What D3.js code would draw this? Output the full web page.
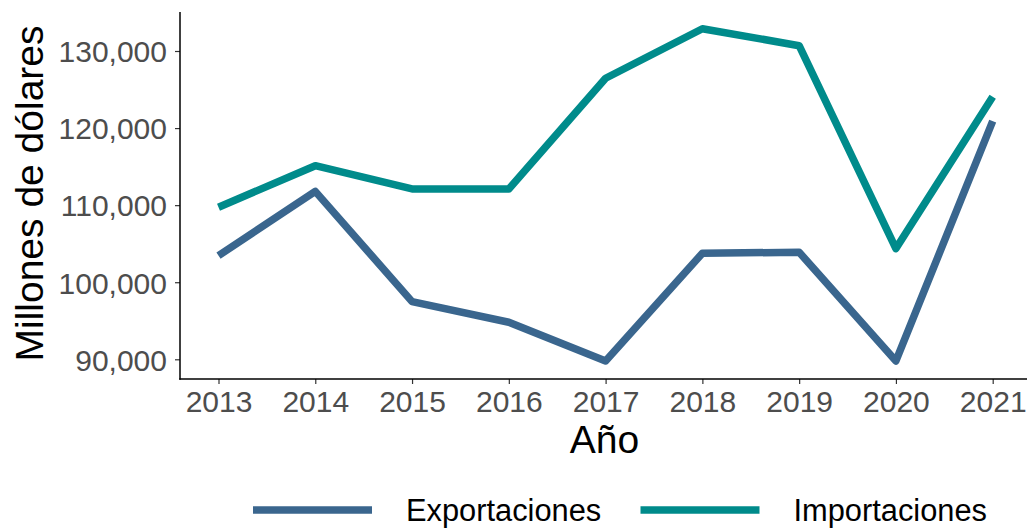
<!DOCTYPE html>
<html>
<head>
<meta charset="utf-8">
<script src="https://cdn.jsdelivr.net/npm/d3@7"></script>
<style>
  body { margin: 0; background: #fff; }
  svg { font-family: "Liberation Sans", Arial, sans-serif; }
</style>
</head>
<body>
<div id="vis"></div>
<script>
// data
var years = [2013, 2014, 2015, 2016, 2017, 2018, 2019, 2020, 2021];
var exportaciones = [103450, 111790, 97480, 94810, 89790, 103760, 103890, 89790, 120900];
var importaciones = [109730, 115120, 112100, 112100, 126460, 132890, 130690, 104370, 124070];
var yTicks = [90000, 100000, 110000, 120000, 130000];
var seriesNames = ["Exportaciones", "Importaciones"];
var seriesColors = ["#3a668e", "#008b8b"];

var width = 1027, height = 528;
var plotLeft = 180, plotTop = 12, plotBottom = 379;

var svg = d3.select("#vis").append("svg")
  .attr("width", width)
  .attr("height", height);

// scales (ggplot style expansion around the data)
var x = d3.scaleLinear().domain([2013, 2021]).range([218.5, 992.7]);
var y = d3.scaleLinear().domain([90000, 130000]).range([359.3, 51]);

// y axis
var yAxis = svg.append("g")
  .attr("transform", `translate(${plotLeft},0)`)
  .call(d3.axisLeft(y).tickValues(yTicks).tickSize(5).tickPadding(8)
    .tickFormat(d3.format(",")));
yAxis.select(".domain").remove();
yAxis.selectAll(".tick line").attr("stroke", "#333").attr("stroke-width", 1.2);
yAxis.selectAll(".tick text")
  .attr("fill", "#4d4d4d")
  .style("font-size", "30px")
  .attr("dy", "0.36em");
svg.append("line")
  .attr("x1", plotLeft).attr("x2", plotLeft)
  .attr("y1", plotTop).attr("y2", plotBottom + 0.7)
  .attr("stroke", "#000").attr("stroke-width", 1.5);

// x axis
var xAxis = svg.append("g")
  .attr("transform", `translate(0,${plotBottom})`)
  .call(d3.axisBottom(x).tickValues(years).tickSize(5).tickPadding(7)
    .tickFormat(d3.format("d")));
xAxis.select(".domain").remove();
xAxis.selectAll(".tick line").attr("stroke", "#333").attr("stroke-width", 1.2);
xAxis.selectAll(".tick text")
  .attr("fill", "#4d4d4d")
  .style("font-size", "30px");
svg.append("line")
  .attr("x1", plotLeft - 0.7).attr("x2", width)
  .attr("y1", plotBottom).attr("y2", plotBottom)
  .attr("stroke", "#000").attr("stroke-width", 1.5);

// lines
var line = d3.line()
  .x((d, i) => x(years[i]))
  .y((d) => y(d));

[exportaciones, importaciones].forEach((vals, k) => {
  svg.append("path")
    .datum(vals)
    .attr("d", line)
    .attr("fill", "none")
    .attr("stroke", seriesColors[k])
    .attr("stroke-width", 7.5)
    .attr("stroke-linejoin", "round")
    .attr("stroke-linecap", "butt");
});

// axis titles
svg.append("text")
  .attr("x", (plotLeft + width) / 2 + 1)
  .attr("y", 453)
  .attr("text-anchor", "middle")
  .style("font-size", "39px")
  .attr("fill", "#000")
  .text("Año");

svg.append("text")
  .attr("transform", "translate(43,193.5) rotate(-90)")
  .attr("text-anchor", "middle")
  .style("font-size", "39px")
  .attr("fill", "#000")
  .text("Millones de dólares");

// legend (kept just inside the bottom edge so descenders are not clipped)
var legendX = [253, 640.5];
var legend = svg.append("g");
seriesNames.forEach((name, k) => {
  legend.append("line")
    .attr("x1", legendX[k]).attr("x2", legendX[k] + 119)
    .attr("y1", 510).attr("y2", 510)
    .attr("stroke", seriesColors[k])
    .attr("stroke-width", 7.7);
  legend.append("text")
    .attr("x", legendX[k] + 153)
    .attr("y", 521)
    .style("font-size", "30.8px")
    .attr("fill", "#000")
    .text(name);
});
</script>
</body>
</html>
